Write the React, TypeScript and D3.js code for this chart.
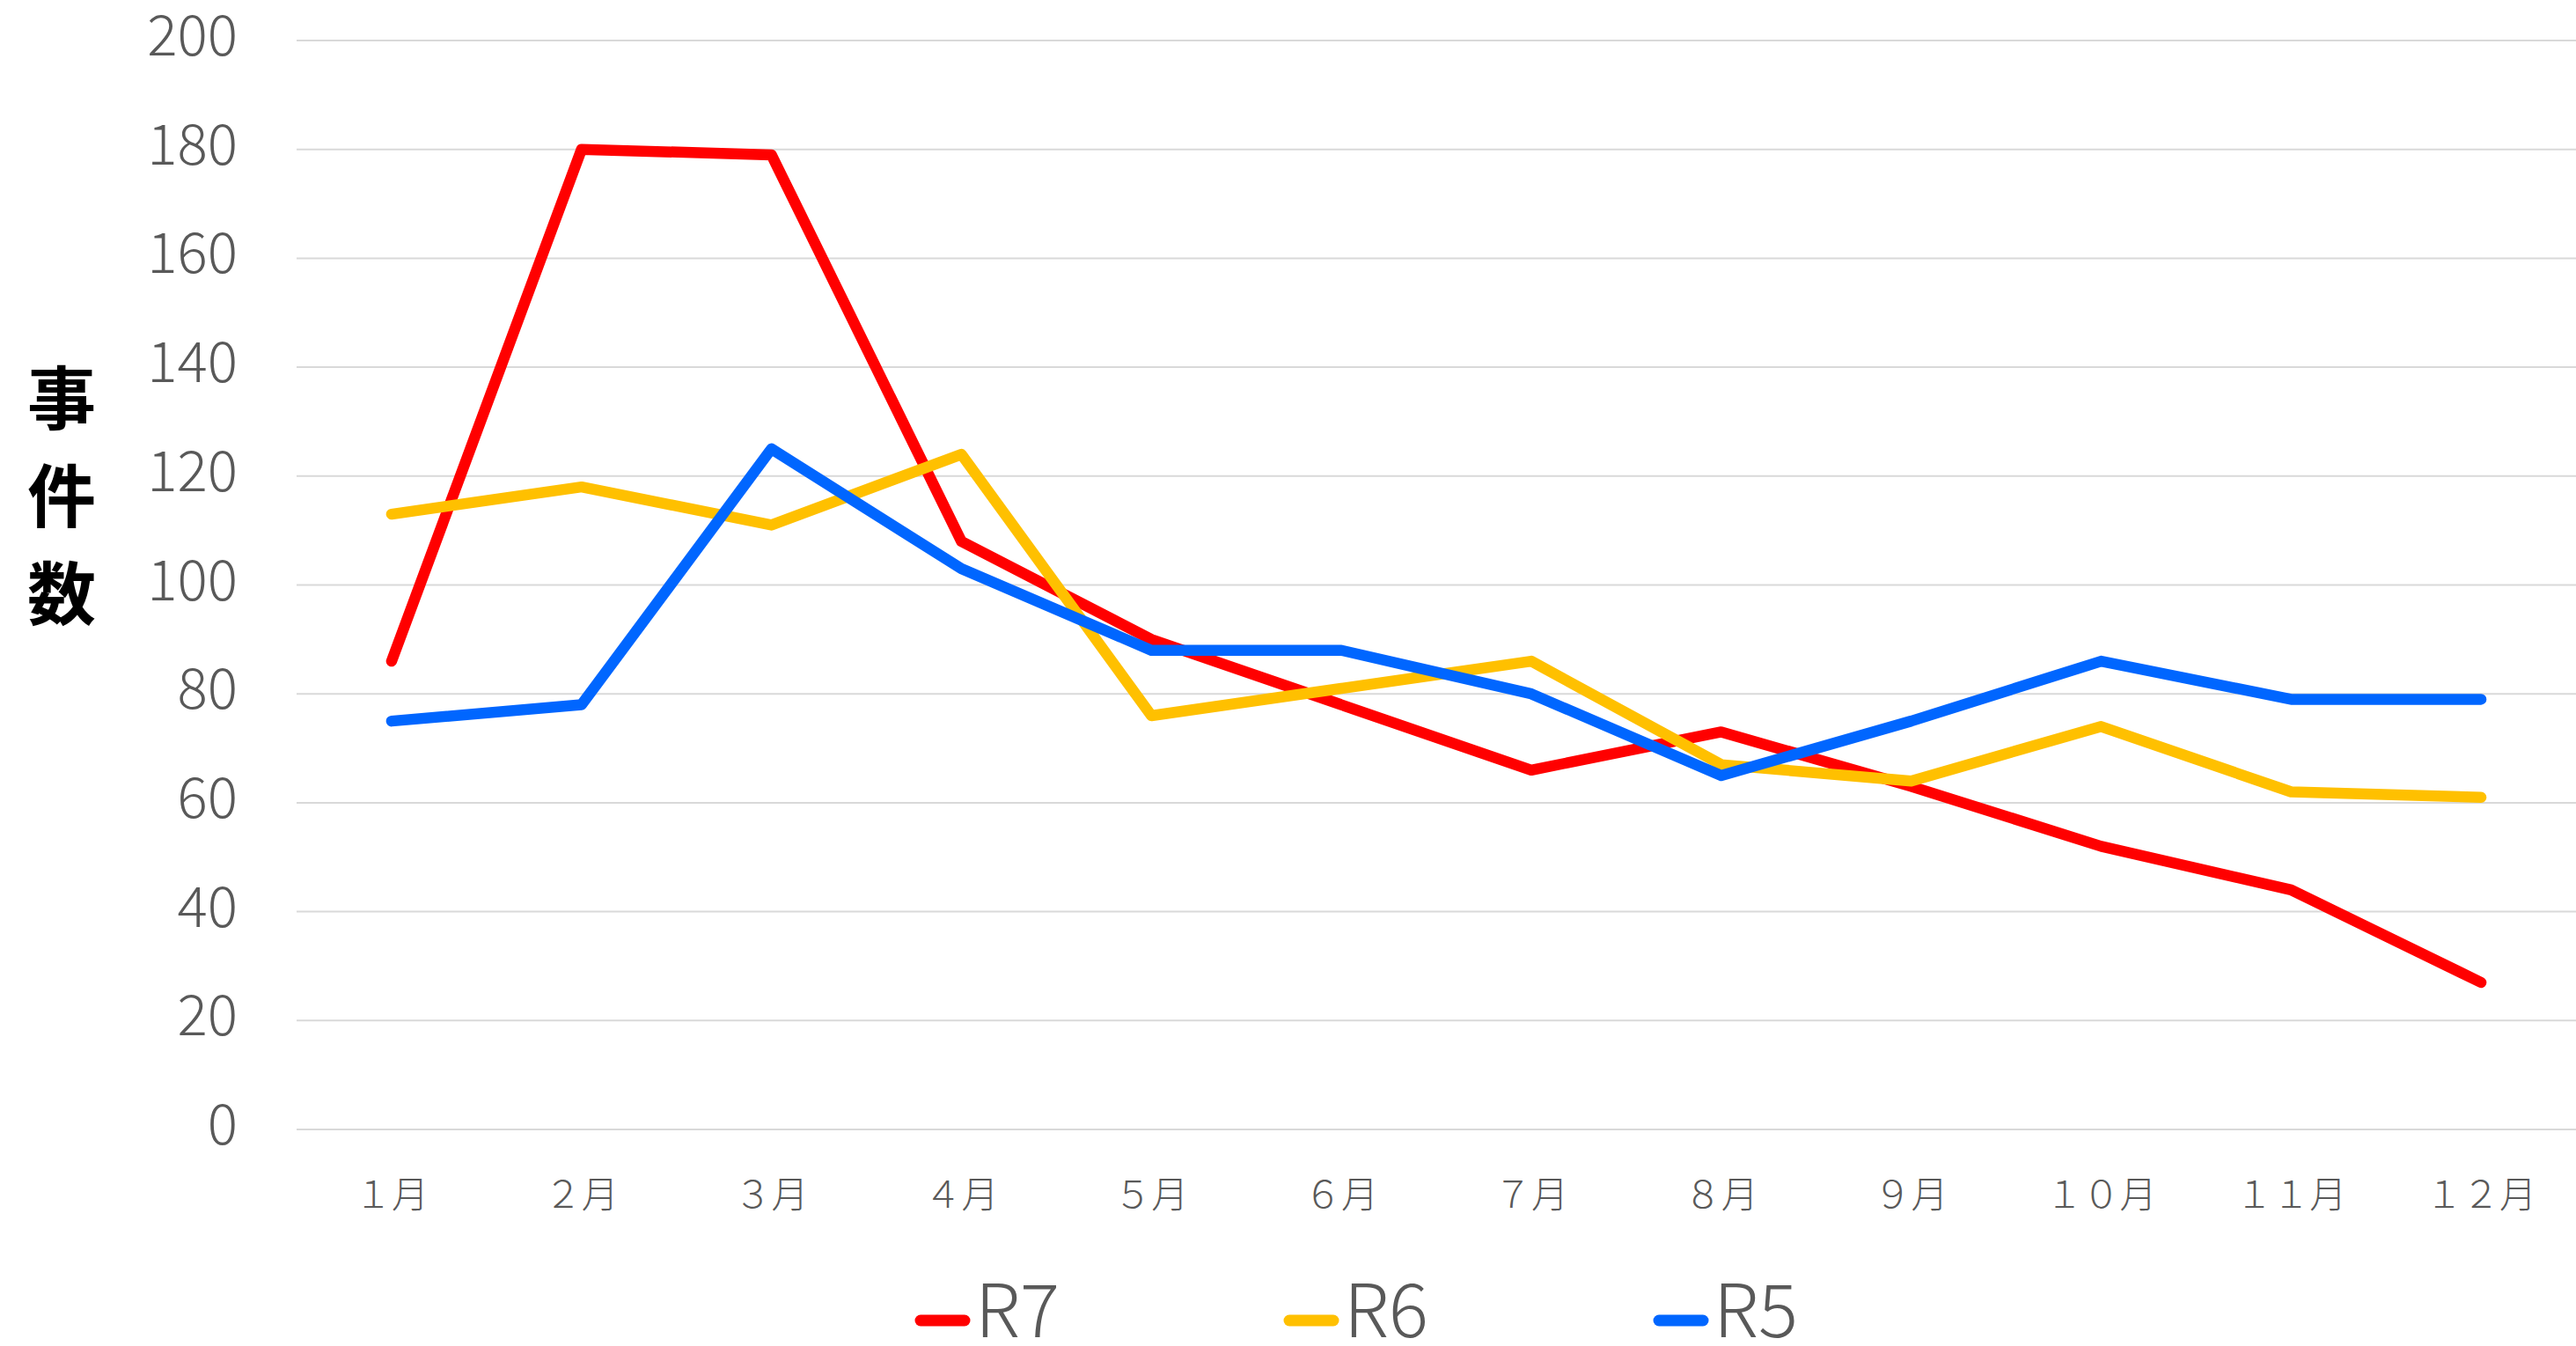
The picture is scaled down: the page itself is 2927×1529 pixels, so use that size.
import React from "react";
import * as d3 from "d3";

const months = ["１月", "２月", "３月", "４月", "５月", "６月", "７月", "８月", "９月", "１０月", "１１月", "１２月"];
const r7 = [86, 180, 179, 108, 90, 78, 66, 73, 63, 52, 44, 27];
const r6 = [113, 118, 111, 124, 76, 81, 86, 67, 64, 74, 62, 61];
const r5 = [75, 78, 125, 103, 88, 88, 80, 65, 75, 86, 79, 79];
const yTicks = [0, 20, 40, 60, 80, 100, 120, 140, 160, 180, 200];
const seriesNames = ["R7", "R6", "R5"];
const yTitle = ["事", "件", "数"];

const W = 2927;
const H = 1529;
const FONT = "'Noto Sans CJK JP', 'Noto Sans', sans-serif";

export default function App() {
  const plotLeft = 337;
  const plotRight = 2927;
  const plotTop = 46;
  const plotBottom = 1283;

  const x = d3.scaleBand<string>().domain(months).range([plotLeft, plotRight]).padding(0);
  const y = d3.scaleLinear().domain([0, 200]).range([plotBottom, plotTop]);
  const cx = (m: string) => (x(m) ?? 0) + x.bandwidth() / 2;

  const line = d3
    .line<number>()
    .x((_, i) => cx(months[i]))
    .y((d) => y(d));

  const series = [
    { name: seriesNames[0], values: r7, color: "#FF0000" },
    { name: seriesNames[1], values: r6, color: "#FFC000" },
    { name: seriesNames[2], values: r5, color: "#0066FF" },
  ];

  // legend positions (left edge of marker)
  const legendX = [1040, 1459, 1879];
  const legendY = 1500;

  return (
    <svg
      width={W}
      height={H}
      style={{ position: "absolute", left: 0, top: 0, background: "#fff" }}
      fontFamily={FONT}
    >
      <rect x={0} y={0} width={W} height={H} fill="#fff" />

      {/* gridlines */}
      {yTicks.map((t) => (
        <line
          key={"g" + t}
          x1={plotLeft}
          x2={plotRight}
          y1={y(t)}
          y2={y(t)}
          stroke="#D9D9D9"
          strokeWidth={2}
        />
      ))}

      {/* y tick labels */}
      {yTicks.map((t) => (
        <text
          key={"yt" + t}
          x={270}
          y={y(t) + 17}
          textAnchor="end"
          fontSize={64}
          fontWeight={300}
          fill="#595959"
        >
          {t}
        </text>
      ))}

      {/* x labels */}
      {months.map((m) => (
        <text key={m} x={cx(m)} y={1372} textAnchor="middle" fontSize={42} fontWeight={300} fill="#595959">
          {m}
        </text>
      ))}

      {/* y axis title */}
      {yTitle.map((c, i) => (
        <text
          key={c}
          x={70}
          y={448 + i * 111}
          textAnchor="middle"
          dominantBaseline="central"
          fontSize={78}
          fontWeight="bold"
          fill="#000"
        >
          {c}
        </text>
      ))}

      {/* lines */}
      {series.map((s) => (
        <path
          key={s.name}
          d={line(s.values) ?? ""}
          fill="none"
          stroke={s.color}
          strokeWidth={12.5}
          strokeLinecap="round"
          strokeLinejoin="round"
        />
      ))}

      {/* legend */}
      {series.map((s, i) => (
        <g key={"lg" + s.name}>
          <line
            x1={legendX[i] + 6}
            x2={legendX[i] + 56}
            y1={legendY}
            y2={legendY}
            stroke={s.color}
            strokeWidth={13}
            strokeLinecap="round"
          />
          <text x={legendX[i] + 68} y={1519} fontSize={84} fontWeight={300} fill="#595959">
            {s.name}
          </text>
        </g>
      ))}
    </svg>
  );
}
